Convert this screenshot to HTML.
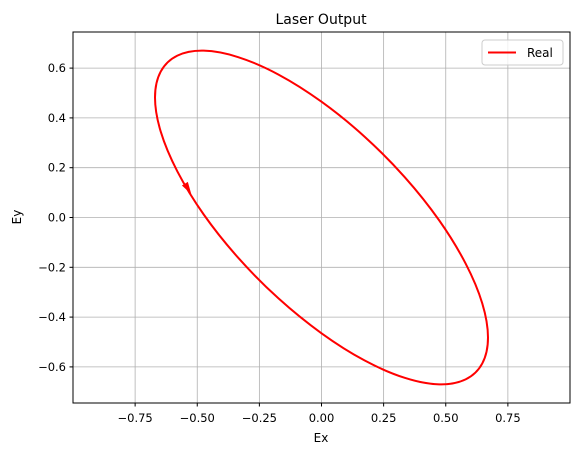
<!DOCTYPE html>
<html><head><meta charset="utf-8"><style>
body{margin:0;background:#fff;}
svg text{font-family:"DejaVu Sans","Liberation Sans",sans-serif;fill:#000;}
</style></head><body>
<svg id="chart" width="578" height="455" xmlns="http://www.w3.org/2000/svg">
<rect width="578" height="455" fill="#fff"/>
<g id="grid"></g>
<g id="ticks"></g>
<path id="curve" fill="none" stroke="#ff0000" stroke-width="2"/>
<path id="arrow" fill="#ff0000" stroke="#ff0000" stroke-width="1"/>
<rect x="73" y="32" width="497" height="371" fill="none" stroke="#000" stroke-width="1"/>
<text x="321" y="24" font-size="14" text-anchor="middle">Laser Output</text>
<text x="321" y="442" font-size="12" text-anchor="middle">Ex</text>
<text x="21" y="217" font-size="12" text-anchor="middle" transform="rotate(-90 21 217)">Ey</text>
<g>
<rect x="482" y="40" width="81" height="25" rx="3" fill="#fff" fill-opacity="0.8" stroke="#ccc"/>
<line x1="488" y1="52.5" x2="516" y2="52.5" stroke="#ff0000" stroke-width="2"/>
<text x="527" y="57" font-size="12">Real</text>
</g>
</svg>
<script>
const xTicks=[-0.75,-0.5,-0.25,0,0.25,0.5,0.75];
const xTickLabels=["−0.75","−0.50","−0.25","0.00","0.25","0.50","0.75"];
const yTicks=[-0.6,-0.4,-0.2,0,0.2,0.4,0.6];
const yTickLabels=["−0.6","−0.4","−0.2","0.0","0.2","0.4","0.6"];
const exVals=[0.670,0.647,0.580,0.474,0.335,0.173,0,-0.173,-0.335,-0.474,-0.580,-0.647,-0.670,-0.647,-0.580,-0.474,-0.335,-0.173,0,0.173,0.335,0.474,0.580,0.647];
const eyVals=[-0.482,-0.586,-0.650,-0.670,-0.644,-0.574,-0.465,-0.325,-0.162,0.012,0.185,0.345,0.482,0.586,0.650,0.670,0.644,0.574,0.465,0.325,0.162,-0.012,-0.185,-0.345];
const arrowPos=[-0.534,0.11];
const arrowFrom=[-0.580,0.185];
const arrowToward=[-0.474,0.012];

const L=73,R=570,T=32,B=403,xmin=-1.0,xmax=1.0,ymin=-0.745,ymax=0.745;
function sx(v){return L+(v-xmin)/(xmax-xmin)*(R-L);}
function sy(v){return B-(v-ymin)/(ymax-ymin)*(B-T);}
const NS="http://www.w3.org/2000/svg";
const grid=document.getElementById('grid'),ticks=document.getElementById('ticks');
function mk(tag,attrs,parent){const e=document.createElementNS(NS,tag);for(const k in attrs)e.setAttribute(k,attrs[k]);parent.appendChild(e);return e;}
xTicks.forEach((v,i)=>{const x=sx(v);
 const g=mk('line',{x1:x,x2:x,y1:T,y2:B,stroke:'#b0b0b0','stroke-width':0.8},grid);
 
 
 const t=mk('line',{x1:x,x2:x,y1:B,y2:B+3.5,stroke:'#000'},ticks);
 
 
 const tx=mk('text',{x:x,y:B+19,'font-size':11.5,'text-anchor':'middle'},ticks);tx.textContent=xTickLabels[i];
 
 
});
yTicks.forEach((v,i)=>{const y=sy(v);
 const g=mk('line',{x1:L,x2:R,y1:y,y2:y,stroke:'#b0b0b0','stroke-width':0.8},grid);
 
 
 const t=mk('line',{x1:L-3.5,x2:L,y1:y,y2:y,stroke:'#000'},ticks);
 
 
 const tx=mk('text',{x:L-7,y:y+4,'font-size':11.5,'text-anchor':'end'},ticks);tx.textContent=yTickLabels[i];
 
 
});
const P=exVals.map((v,i)=>[sx(v),sy(eyVals[i])]);const n=P.length;
let d='M'+P[0][0]+','+P[0][1];
for(let i=0;i<n;i++){const p0=P[(i-1+n)%n],p1=P[i],p2=P[(i+1)%n],p3=P[(i+2)%n];
 d+=' C'+(p1[0]+(p2[0]-p0[0])/6)+','+(p1[1]+(p2[1]-p0[1])/6)+' '+(p2[0]-(p3[0]-p1[0])/6)+','+(p2[1]-(p3[1]-p1[1])/6)+' '+p2[0]+','+p2[1];}
document.getElementById('curve').setAttribute('d',d+'Z');
const ax=sx(arrowPos[0]),ay=sy(arrowPos[1]);
let dx=sx(arrowToward[0])-sx(arrowFrom[0]),dy=sy(arrowToward[1])-sy(arrowFrom[1]);const len=Math.hypot(dx,dy);dx/=len;dy/=len;
const tipx=ax+dx*3,tipy=ay+dy*3,bx=ax-dx*7,by=ay-dy*7;
document.getElementById('arrow').setAttribute('d',`M${tipx},${tipy} L${bx-dy*2.8},${by+dx*2.8} L${bx+dy*2.8},${by-dx*2.8} Z`);
</script>
</body></html>
